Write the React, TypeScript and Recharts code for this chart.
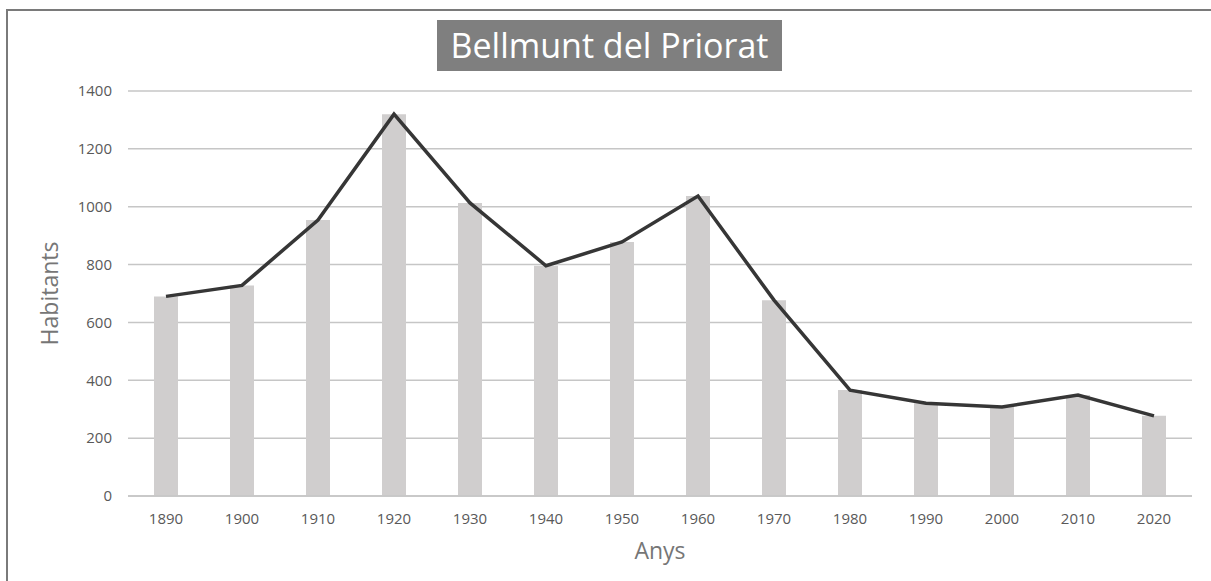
import React from 'react';
import { ComposedChart, Bar, Line, XAxis, YAxis, CartesianGrid, Label } from 'recharts';

const years = ['1890', '1900', '1910', '1920', '1930', '1940', '1950', '1960', '1970', '1980', '1990', '2000', '2010', '2020'];
const habitants = [690, 728, 954, 1320, 1013, 796, 878, 1037, 677, 366, 321, 308, 349, 277];
const yTicks = [0, 200, 400, 600, 800, 1000, 1200, 1400];

const data = years.map((year, i) => ({ year, value: habitants[i] }));

const font = '"Open Sans", "Liberation Sans", sans-serif';

const App: React.FC = () => {
  return (
    <div style={{ position: 'fixed', left: 0, top: 0, width: 1211, height: 581, background: '#fff', fontFamily: font, overflow: 'hidden' }}>
      <div style={{ position: 'absolute', left: 0, top: 0 }}>
        <ComposedChart width={1211} height={581} data={data} margin={{ top: 91, right: 19, bottom: 22, left: 20 }}>
          <CartesianGrid vertical={false} stroke="#c6c6c6" strokeWidth={1.5} />
          <XAxis
            dataKey="year"
            axisLine={{ stroke: '#c6c6c6', strokeWidth: 1.5 }}
            tickLine={false}
            tickMargin={11}
            height={63}
            tick={{ fill: '#595959', fontSize: 15, fontFamily: font }}
          >
            <Label value="Anys" position="insideBottom" offset={0} style={{ fill: '#767676', fontSize: 23, fontFamily: font }} />
          </XAxis>
          <YAxis
            domain={[0, 1400]}
            ticks={yTicks}
            axisLine={false}
            tickLine={false}
            tickMargin={10}
            width={108}
            tick={{ fill: '#595959', fontSize: 15, fontFamily: font }}
          >
            <Label
              value="Habitants"
              angle={-90}
              position="insideLeft"
              offset={30}
              style={{ fill: '#767676', fontSize: 23, fontFamily: font, textAnchor: 'middle' }}
            />
          </YAxis>
          <Bar dataKey="value" fill="#d0cece" barSize={24} isAnimationActive={false} />
          <Line
            dataKey="value"
            type="linear"
            stroke="#363636"
            strokeWidth={3.5}
            dot={false}
            activeDot={false}
            isAnimationActive={false}
          />
        </ComposedChart>
      </div>
      <div
        style={{
          position: 'absolute',
          left: 437,
          top: 20,
          width: 345,
          height: 51,
          background: '#7f7f7f',
          color: '#fff',
          fontSize: 34,
          lineHeight: '50px',
          textAlign: 'center',
          whiteSpace: 'nowrap',
        }}
      >
        Bellmunt del Priorat
      </div>
      <div
        style={{
          position: 'absolute',
          left: 6,
          top: 9,
          width: 1240,
          height: 600,
          borderTop: '2px solid #7a7a7a',
          borderLeft: '2px solid #7a7a7a',
          boxSizing: 'border-box',
          pointerEvents: 'none',
        }}
      />
    </div>
  );
};

export default App;
